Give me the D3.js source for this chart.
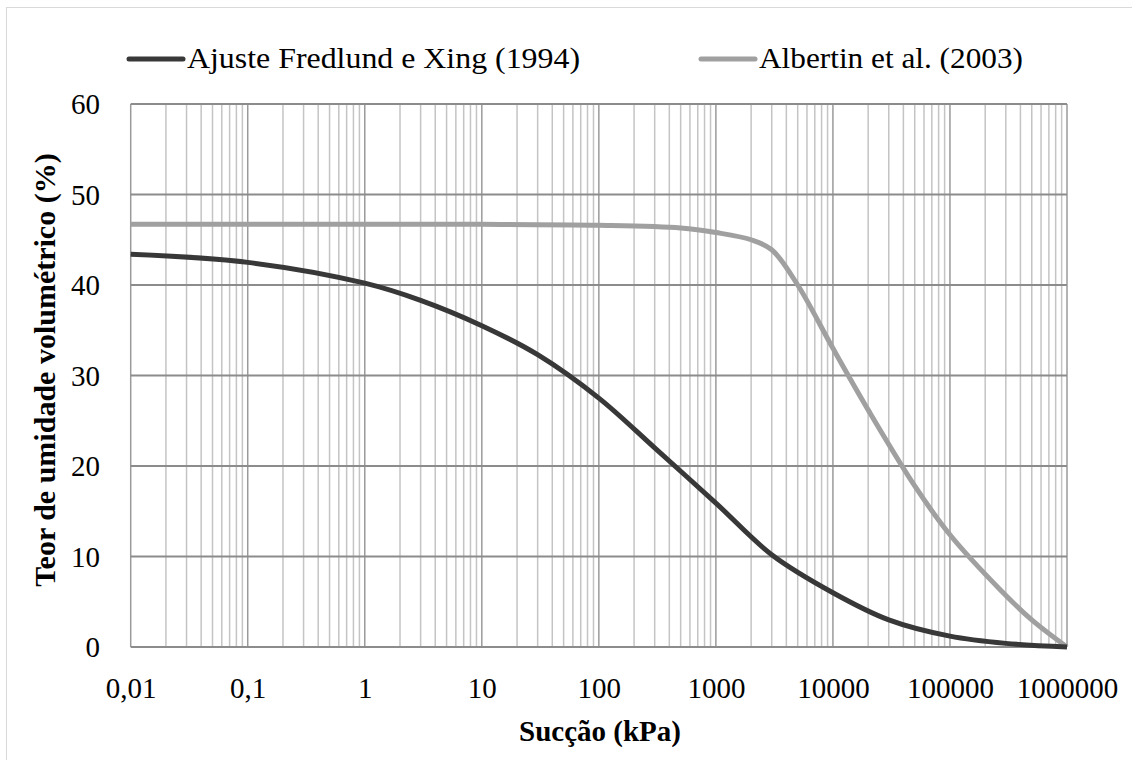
<!DOCTYPE html>
<html><head><meta charset="utf-8"><script src="https://cdn.jsdelivr.net/npm/d3@7"></script></head>
<body style="margin:0">
<svg id="c" width="1132" height="760" font-family="Liberation Serif"></svg>
<script>
const FONT = "Liberation Serif";
const seriesNames = ["Ajuste Fredlund e Xing (1994)", "Albertin et al. (2003)"];
const fxSuction = [0.01, 0.1, 1, 3, 10, 30, 100, 300, 1000, 3000, 10000, 30000, 100000, 300000, 1000000];
const fxTheta   = [43.4, 42.5, 40.2, 38.3, 35.5, 32.3, 27.5, 22.0, 15.9, 10.2, 6.0, 3.0, 1.2, 0.4, 0];
const alSuction = [0.01, 1, 10, 100, 500, 1000, 2000, 3000, 5000, 10000, 20000, 50000, 100000, 270000, 500000, 1000000];
const alTheta   = [46.7, 46.7, 46.7, 46.6, 46.3, 45.8, 45.0, 43.9, 40.0, 33.0, 26.2, 17.8, 12.4, 6.3, 3.0, 0];
const xTickLabels = ["0,01", "0,1", "1", "10", "100", "1000", "10000", "100000", "1000000"];
const yTicks = [0, 10, 20, 30, 40, 50, 60];

const svg = d3.select("#c");
const L = 130.7, R = 1067, T = 104, B = 647;
const x = d3.scaleLog().domain([0.01, 1e6]).range([L, R]);
const y = d3.scaleLinear().domain([0, 60]).range([B, T]);

function serif(sel, size, bold) {
  sel.attr("font-family", FONT).style("font-family", `"${FONT}"`).attr("font-size", size);
  if (bold) sel.attr("font-weight", "bold");
  return sel;
}

svg.append("rect").attr("x", 6.5).attr("y", 7.5).attr("width", 1130).attr("height", 760)
  .attr("fill", "none").attr("stroke", "#d9d9d9").attr("stroke-width", 1);

const minors = [];
for (let e = -2; e < 6; e++) for (let m = 2; m <= 9; m++) minors.push(m * Math.pow(10, e));
svg.append("g").selectAll("line").data(minors).join("line")
  .attr("x1", d => x(d)).attr("x2", d => x(d)).attr("y1", T).attr("y2", B)
  .attr("stroke", "#c4c4c4").attr("stroke-width", 1.5);

const majors = xTickLabels.map((s, i) => Math.pow(10, i - 2));
svg.append("g").selectAll("line").data(majors).join("line")
  .attr("x1", d => x(d)).attr("x2", d => x(d)).attr("y1", T).attr("y2", B)
  .attr("stroke", "#9a9a9a").attr("stroke-width", 1.5);

svg.append("g").selectAll("line").data(yTicks).join("line")
  .attr("x1", L).attr("x2", R).attr("y1", d => y(d)).attr("y2", d => y(d))
  .attr("stroke", "#8c8c8c").attr("stroke-width", 1.8);

const xAxis = d3.axisBottom(x).tickValues(majors).tickFormat((d, i) => xTickLabels[i]).tickSize(0).tickPadding(0);
const gx = svg.append("g").attr("transform", `translate(0,${B})`).call(xAxis);
serif(gx, 29);
gx.select(".domain").remove();
serif(gx.selectAll("text").attr("dy", null).attr("y", 51).attr("fill", "#000"), 29);

const yAxis = d3.axisLeft(y).tickValues(yTicks).tickSize(0).tickPadding(0);
const gy = svg.append("g").attr("transform", `translate(100,0)`).call(yAxis);
serif(gy, 29);
gy.select(".domain").remove();
serif(gy.selectAll("text").attr("x", 0).attr("dy", "0.34em").attr("fill", "#000"), 29);

const line = d3.line().x(d => x(d[0])).y(d => y(d[1])).curve(d3.curveCatmullRom.alpha(0.5));
svg.append("path").datum(alSuction.map((s, i) => [s, alTheta[i]])).attr("d", line)
  .attr("fill", "none").attr("stroke", "#a0a0a0").attr("stroke-width", 5).attr("stroke-linejoin", "round");
svg.append("path").datum(fxSuction.map((s, i) => [s, fxTheta[i]])).attr("d", line)
  .attr("fill", "none").attr("stroke", "#383838").attr("stroke-width", 5).attr("stroke-linejoin", "round");

serif(svg.append("text").attr("x", 600).attr("y", 741).attr("text-anchor", "middle"), 29, true).text("Sucção (kPa)");
serif(svg.append("text").attr("transform", "translate(55,370) rotate(-90)").attr("text-anchor", "middle"), 30, true)
  .text("Teor de umidade volumétrico (%)");

const legend = [
  {name: seriesNames[0], color: "#383838", x1: 129, x2: 183, tx: 187, tw: 393},
  {name: seriesNames[1], color: "#a0a0a0", x1: 701, x2: 755, tx: 759, tw: 264}
];
legend.forEach(d => {
  svg.append("line").attr("x1", d.x1).attr("x2", d.x2).attr("y1", 59).attr("y2", 59)
    .attr("stroke", d.color).attr("stroke-width", 5).attr("stroke-linecap", "round");
  serif(svg.append("text").attr("x", d.tx).attr("y", 68), 30)
    .attr("textLength", d.tw).attr("lengthAdjust", "spacingAndGlyphs").text(d.name);
});
</script></body></html>
